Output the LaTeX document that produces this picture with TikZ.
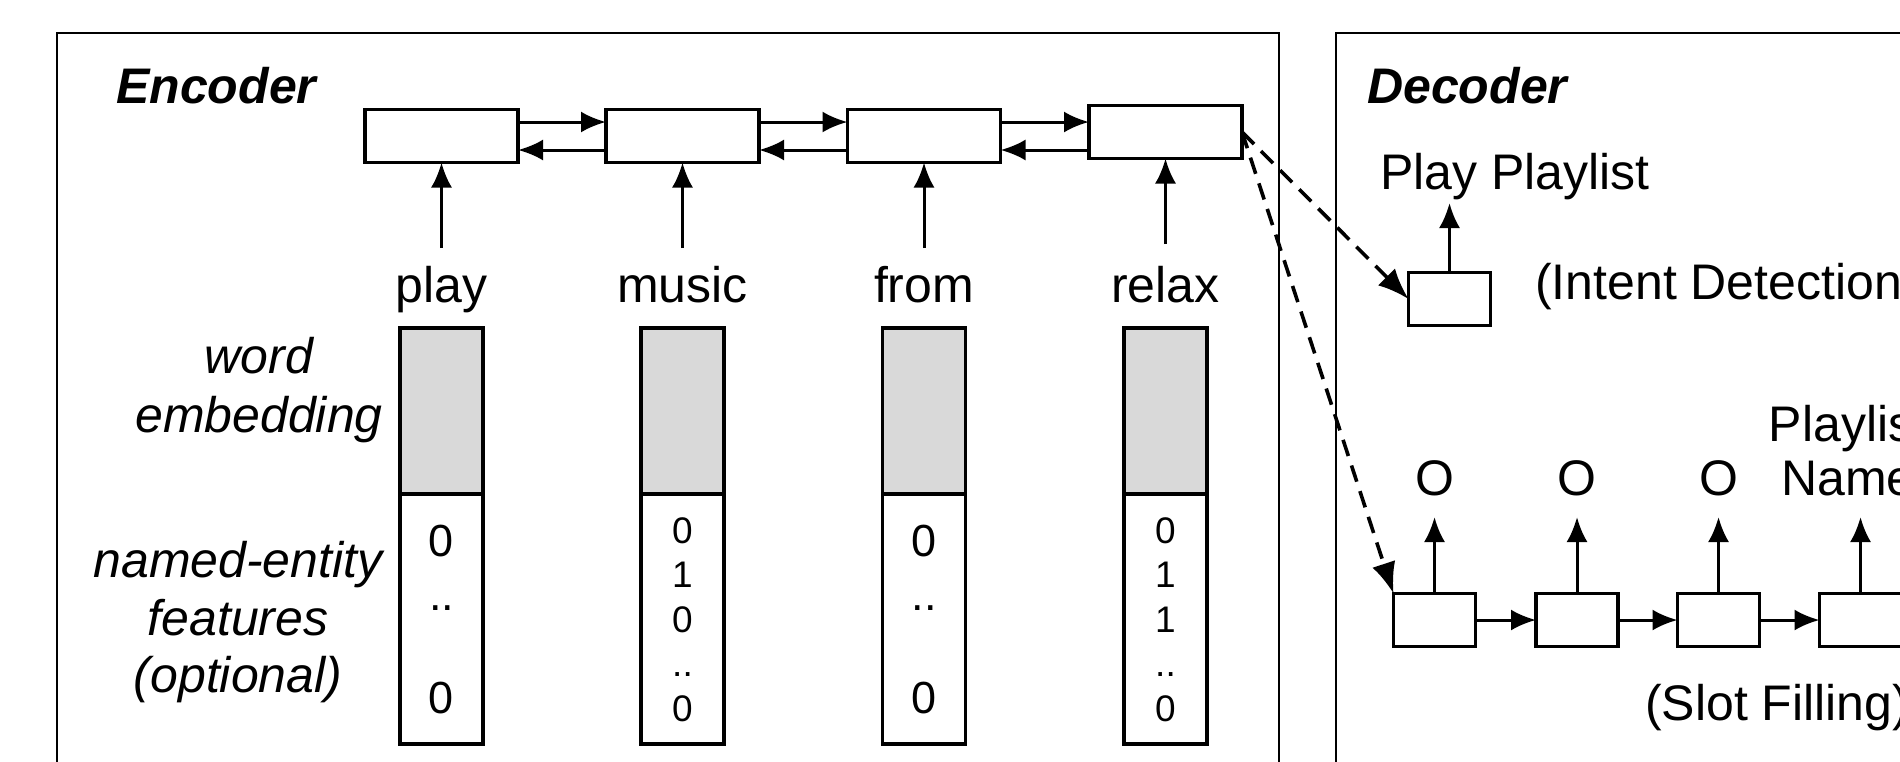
\documentclass[tikz,border=0pt]{standalone}
\usepackage{fontspec}
\setmainfont{Liberation Sans}
\usetikzlibrary{arrows.meta}
\definecolor{embgray}{RGB}{217,217,217}
\begin{document}
\begin{tikzpicture}[x=1pt,y=-1pt,
  frame/.style={draw=black,line width=2.6pt},
  rnn/.style={draw=black,line width=3.6pt,fill=white,minimum width=153pt,minimum height=53pt,inner sep=0pt,outer sep=0pt},
  dbox/.style={draw=black,line width=3.6pt,fill=white,minimum width=82pt,minimum height=53pt,inner sep=0pt,outer sep=0pt},
  embbox/.style={draw=black,line width=3.6pt,fill=embgray,minimum width=83pt,minimum height=166pt,inner sep=0pt,outer sep=0pt,anchor=north},
  nebox/.style={draw=black,line width=3.6pt,fill=white,minimum width=83pt,minimum height=250pt,inner sep=0pt,outer sep=0pt,anchor=north},
  arr/.style={line width=3pt,-{Latex[length=25pt,width=21pt]}},
  darr/.style={line width=3.6pt,dash pattern=on 17pt off 10pt,-{Latex[length=31pt,width=24pt]}},
  lbl/.style={font=\fontsize{50}{60}\selectfont,inner sep=0pt,anchor=base},
  ilbl/.style={font=\fontsize{50}{60}\selectfont\itshape,inner sep=0pt,anchor=base},
  title/.style={font=\fontsize{50}{60}\selectfont\bfseries\itshape,inner sep=0pt,anchor=base west},
  bigd/.style={font=\fontsize{45}{54}\selectfont,inner sep=0pt,anchor=base},
  smalld/.style={font=\fontsize{37}{44}\selectfont,inner sep=0pt,anchor=base}
]
\useasboundingbox (0,0) rectangle (1900,761);
\clip (0,0) rectangle (1900,761);

% frames
\draw[frame] (57,33) rectangle (1279,820);
\draw[frame] (1336,33) rectangle (2050,820);

\node[title] (enc) at (116,103) {Encoder};
\node[title] (dec) at (1367,103) {Decoder};

% encoder RNN boxes
\node[rnn] (b1) at (441.5,136) {};
\node[rnn] (b2) at (682.5,136) {};
\node[rnn] (b3) at (924,136) {};
\node[rnn] (b4) at (1165.5,132) {};

\draw[arr] ([yshift=14pt]b1.east) -- ([yshift=14pt]b2.west);
\draw[arr] ([yshift=-14pt]b2.west) -- ([yshift=-14pt]b1.east);
\draw[arr] ([yshift=14pt]b2.east) -- ([yshift=14pt]b3.west);
\draw[arr] ([yshift=-14pt]b3.west) -- ([yshift=-14pt]b2.east);
\draw[arr] ([yshift=14pt]b3.east) -- ([yshift=14pt]b3.east -| b4.west);
\draw[arr] ([yshift=-14pt]b3.east -| b4.west) -- ([yshift=-14pt]b3.east);

% words
\node[lbl] (w1) at (441.5,302) {play};
\node[lbl] (w2) at (682.5,302) {music};
\node[lbl] (w3) at (924,302) {from};
\node[lbl] (w4) at (1165.5,302) {relax};
\coordinate (u1) at (441.5,248);
\coordinate (u2) at (682.5,248);
\coordinate (u3) at (924,248);
\coordinate (u4) at (1165.5,244);
\draw[arr] (u1) -- (b1.south);
\draw[arr] (u2) -- (b2.south);
\draw[arr] (u3) -- (b3.south);
\draw[arr] (u4) -- (b4.south);

% side labels
\node[ilbl] (l1) at (259,373) {word};
\node[ilbl] (l2) at (259,432) {embedding};
\node[ilbl] (l3) at (238,577) {named-entity};
\node[ilbl] (l4) at (238,635) {features};
\node[ilbl] (l5) at (238,692) {(optional)};

% columns
\node[embbox] (e1) at (441.5,328) {};
\node[nebox] (n1) at (e1.south) {};
\node[embbox] (e2) at (682.5,328) {};
\node[nebox] (n2) at (e2.south) {};
\node[embbox] (e3) at (924,328) {};
\node[nebox] (n3) at (e3.south) {};
\node[embbox] (e4) at (1165.5,328) {};
\node[nebox] (n4) at (e4.south) {};

% play column
\node[bigd] (d1a) at (441.5,556) {0};
\node[bigd] (d1b) at (441.5,610) {..};
\node[bigd] (d1c) at (441.5,713) {0};
% music column
\node[smalld] (d2a) at (682.5,543) {0};
\node[smalld] (d2b) at (682.5,587.5) {1};
\node[smalld] (d2c) at (682.5,632) {0};
\node[smalld] (d2d) at (682.5,676.5) {..};
\node[smalld] (d2e) at (682.5,721) {0};
% from column
\node[bigd] (d3a) at (924,556) {0};
\node[bigd] (d3b) at (924,610) {..};
\node[bigd] (d3c) at (924,713) {0};
% relax column
\node[smalld] (d4a) at (1165.5,543) {0};
\node[smalld] (d4b) at (1165.5,587.5) {1};
\node[smalld] (d4c) at (1165.5,632) {1};
\node[smalld] (d4d) at (1165.5,676.5) {..};
\node[smalld] (d4e) at (1165.5,721) {0};

% decoder: intent
\node[dbox] (ib) at (1449.5,299) {};
\node[lbl,anchor=base west] (pp) at (1380,189) {Play Playlist};
\coordinate (ui) at (1449.5,203);
\draw[arr] (ib.north) -- (ui);
\node[lbl,anchor=base west] (itd) at (1535,299) {(Intent Detection)};

% decoder: slots
\node[dbox] (s1) at (1434.5,620) {};
\node[dbox] (s2) at (1577,620) {};
\node[dbox] (s3) at (1718.5,620) {};
\node[dbox] (s4) at (1860.5,620) {};
\draw[arr] (s1.east) -- (s2.west);
\draw[arr] (s2.east) -- (s3.west);
\draw[arr] (s3.east) -- (s4.west);
\coordinate (o1) at (1434.5,517);
\coordinate (o2) at (1577,517);
\coordinate (o3) at (1718.5,517);
\coordinate (o4) at (1860.5,517);
\draw[arr] (s1.north) -- (o1);
\draw[arr] (s2.north) -- (o2);
\draw[arr] (s3.north) -- (o3);
\draw[arr] (s4.north) -- (o4);
\node[lbl] (t1) at (1434.5,495) {O};
\node[lbl] (t2) at (1577,495) {O};
\node[lbl] (t3) at (1718.5,495) {O};
\node[lbl] (t4a) at (1848,441) {Playlist};
\node[lbl] (t4b) at (1848,495) {Name};
\node[lbl,anchor=base west] (sf) at (1645,720) {(Slot Filling)};

% dashed connections
\draw[darr] (b4.east) -- (ib.west);
\draw[darr] (b4.east) -- (s1.north west);
\end{tikzpicture}
\end{document}
